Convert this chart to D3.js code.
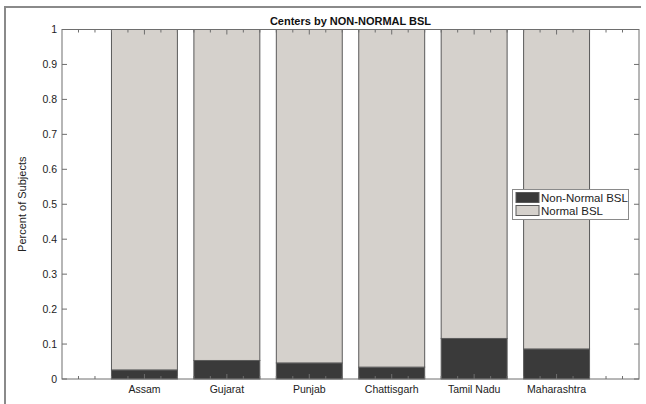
<!DOCTYPE html>
<html><head><meta charset="utf-8">
<script src="https://cdn.jsdelivr.net/npm/d3@7"></script>
<style>
body{margin:0;background:#fff;}
svg{display:block;font-family:"Liberation Sans",Arial,Helvetica,sans-serif;}
</style></head>
<body>
<svg id="c" width="646" height="404"></svg>
<script>
const categories = ["Assam","Gujarat","Punjab","Chattisgarh","Tamil Nadu","Maharashtra"];
const nonNormal = [0.026, 0.053, 0.046, 0.034, 0.116, 0.086];
const normal = nonNormal.map(v => 1 - v);
const seriesNames = ["Non-Normal BSL","Normal BSL"];
const seriesColors = ["#3a3a3a","#d5d1cc"];
const yTicks = [0,0.1,0.2,0.3,0.4,0.5,0.6,0.7,0.8,0.9,1];
const yTickLabels = ["0","0.1","0.2","0.3","0.4","0.5","0.6","0.7","0.8","0.9","1"];

const svg = d3.select("#c");
const L = 62, R = 639, T = 29.5, B = 379;
const x = d3.scaleLinear().domain([0, 7]).range([L, R]);
const y = d3.scaleLinear().domain([0, 1]).range([B, T]);
const axisColor = "#6e6e6e";

// outer frame
svg.append("path").attr("d","M5,404 V7 H641").attr("fill","none").attr("stroke","#8a8a8a").attr("stroke-width",2);

// plot background
svg.append("rect").attr("x",L).attr("y",T).attr("width",R-L).attr("height",B-T).attr("fill","#fff");

// bars
const bw = 0.8;
const stacks = categories.map((c,i)=>[
  {s:0, y0:0, y1:nonNormal[i], i},
  {s:1, y0:nonNormal[i], y1:nonNormal[i]+normal[i], i}
]).flat();
svg.append("g").selectAll("rect").data(stacks).join("rect")
  .attr("x", d => x(d.i+1-bw/2))
  .attr("width", d => x(d.i+1+bw/2)-x(d.i+1-bw/2))
  .attr("y", d => y(d.y1))
  .attr("height", d => y(d.y0)-y(d.y1))
  .attr("fill", d => seriesColors[d.s])
  .attr("stroke","#5a5a5a").attr("stroke-width",1);

// axes: box
svg.append("rect").attr("x",L).attr("y",T).attr("width",R-L).attr("height",B-T)
  .attr("fill","none").attr("stroke",axisColor).attr("stroke-width",1);

// x ticks (minor every 0.2, major at integers) top and bottom
const minor = d3.range(1, 35).map(k => k*0.2).filter(v => Math.abs(v - Math.round(v)) > 1e-6);
const major = d3.range(1, 7);
const tg = svg.append("g").attr("stroke",axisColor).attr("stroke-width",1);
minor.forEach(v=>{
  tg.append("line").attr("x1",x(v)).attr("x2",x(v)).attr("y1",B).attr("y2",B-3);
  tg.append("line").attr("x1",x(v)).attr("x2",x(v)).attr("y1",T).attr("y2",T+3);
});
major.forEach(v=>{
  tg.append("line").attr("x1",x(v)).attr("x2",x(v)).attr("y1",B).attr("y2",B-5);
  tg.append("line").attr("x1",x(v)).attr("x2",x(v)).attr("y1",T).attr("y2",T+5);
});
// y ticks left and right (inward)
yTicks.forEach(v=>{
  tg.append("line").attr("x1",L).attr("x2",L+5).attr("y1",y(v)).attr("y2",y(v));
  tg.append("line").attr("x1",R).attr("x2",R-5).attr("y1",y(v)).attr("y2",y(v));
});

// y tick labels
svg.append("g").selectAll("text").data(yTicks).join("text")
  .attr("x", L-5).attr("y", d => y(d)).attr("dy","0.35em")
  .attr("text-anchor","end").attr("font-size",10.5).attr("fill","#222")
  .text((d,i)=>yTickLabels[i]);

// x labels
svg.append("g").selectAll("text").data(categories).join("text")
  .attr("x", (d,i)=>x(i+1)).attr("y", B+14)
  .attr("text-anchor","middle").attr("font-size",10.5).attr("fill","#222")
  .text(d=>d);

// y label
svg.append("text").attr("transform",`translate(26,${(T+B)/2}) rotate(-90)`)
  .attr("text-anchor","middle").attr("font-size",11).attr("fill","#222")
  .text("Percent of Subjects");

// title
svg.append("text").attr("x",(L+R)/2).attr("y",T-5).attr("text-anchor","middle")
  .attr("font-size",11).attr("font-weight","bold").attr("fill","#111")
  .text("Centers by NON-NORMAL BSL");

// legend
const lg = svg.append("g");
lg.append("rect").attr("x",512.5).attr("y",189.5).attr("width",116).attr("height",30)
  .attr("fill","#fff").attr("stroke","#8a8a8a").attr("stroke-width",1);
seriesNames.forEach((n,i)=>{
  lg.append("rect").attr("x",516).attr("y",192.5+i*13).attr("width",23).attr("height",10)
    .attr("fill",seriesColors[i]).attr("stroke","#5a5a5a").attr("stroke-width",1);
  lg.append("text").attr("x",541).attr("y",197.5+i*13).attr("dy","0.35em")
    .attr("font-size",11.5).attr("fill","#222").text(n);
});
</script>
</body></html>
